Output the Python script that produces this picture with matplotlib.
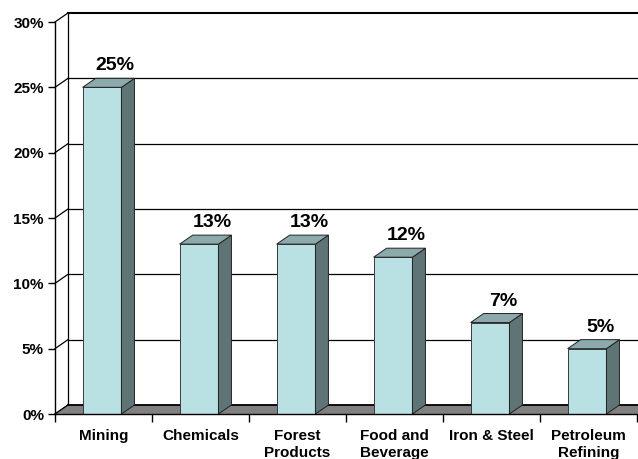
import matplotlib.pyplot as plt
from matplotlib.patches import Polygon

plt.rcParams['font.family'] = ['Liberation Sans', 'DejaVu Sans']

# data
categories = ['Mining', 'Chemicals', 'Forest\nProducts', 'Food and\nBeverage',
              'Iron & Steel', 'Petroleum\nRefining']
values = [25, 13, 13, 12, 7, 5]
y_ticks = [0, 5, 10, 15, 20, 25, 30]

# 3d look (depth offset in data units)
DX = 0.134
DY = 0.69
BAR_W = 0.40

FRONT = '#b9e0e3'
SIDE = '#5f7474'
TOP = '#8ca9ab'
FLOOR = '#808080'

fig = plt.figure(figsize=(6.38, 4.59), dpi=100)
ax = fig.add_axes([55 / 638, 45 / 459, 582 / 638, 392 / 459])
ax.set_xlim(0, 6)
ax.set_ylim(0, 30)
ax.set_facecolor('none')

# back wall gridlines + left wall diagonals
for v in y_ticks:
    if 0 < v < 30:
        ax.plot([DX, 6.3], [v + DY, v + DY], color='black', lw=0.9, clip_on=False, zorder=1)
    ax.plot([0, DX], [v, v + DY], color='black', lw=0.9, clip_on=False, zorder=1)
ax.plot([DX, 6.3], [30 + DY, 30 + DY], color='black', lw=1.5, clip_on=False, zorder=1)
ax.plot([DX, DX], [DY, 30 + DY], color='black', lw=0.9, clip_on=False, zorder=1)

# floor
floor = Polygon([(0, 0), (6.3, 0), (6.3 + DX, DY), (DX, DY)], closed=True,
                facecolor=FLOOR, edgecolor='none', clip_on=False, zorder=2)
ax.add_patch(floor)
ax.plot([DX, 6.3], [DY, DY], color='black', lw=1.3, clip_on=False, zorder=2)
ax.plot([0, DX], [0, DY], color='black', lw=0.8, clip_on=False, zorder=2)

# bars
for i, v in enumerate(values):
    x0 = i + 0.5 - 0.015 - BAR_W / 2
    x1 = x0 + BAR_W
    front = Polygon([(x0, 0), (x1, 0), (x1, v), (x0, v)], closed=True,
                    facecolor=FRONT, edgecolor='#3a3a3a', lw=0.7, clip_on=False, zorder=3)
    side = Polygon([(x1, 0), (x1 + DX, DY), (x1 + DX, v + DY), (x1, v)], closed=True,
                   facecolor=SIDE, edgecolor='#222222', lw=0.7, clip_on=False, zorder=3)
    top = Polygon([(x0, v), (x1, v), (x1 + DX, v + DY), (x0 + DX, v + DY)], closed=True,
                  facecolor=TOP, edgecolor='#222222', lw=0.7, clip_on=False, zorder=3)
    for p in (front, side, top):
        ax.add_patch(p)
    ax.text((x0 + x1) / 2 + DX, v + DY + 0.3, f'{v}%', ha='center', va='bottom',
            fontsize=14, fontweight='bold', zorder=4)

# axes styling
for s in ('top', 'right'):
    ax.spines[s].set_visible(False)
ax.spines['left'].set_linewidth(1.0)
ax.spines['bottom'].set_linewidth(1.0)
ax.spines['bottom'].set_zorder(5)

ax.set_yticks(y_ticks)
ax.set_yticklabels([f'{v}%' for v in y_ticks], fontsize=11, fontweight='bold')
ax.set_xticks(range(7))
ax.set_xticklabels([])
ax.set_xticks([i + 0.5 for i in range(6)], minor=True)
ax.set_xticklabels(categories, minor=True, fontsize=11, fontweight='bold', linespacing=1.3)
ax.tick_params(axis='y', direction='out', length=5, width=1, pad=3)
ax.tick_params(axis='x', which='major', direction='out', length=6, width=1)
ax.tick_params(axis='x', which='minor', length=0, pad=10.5)

fig.savefig('out.png', dpi=100)
